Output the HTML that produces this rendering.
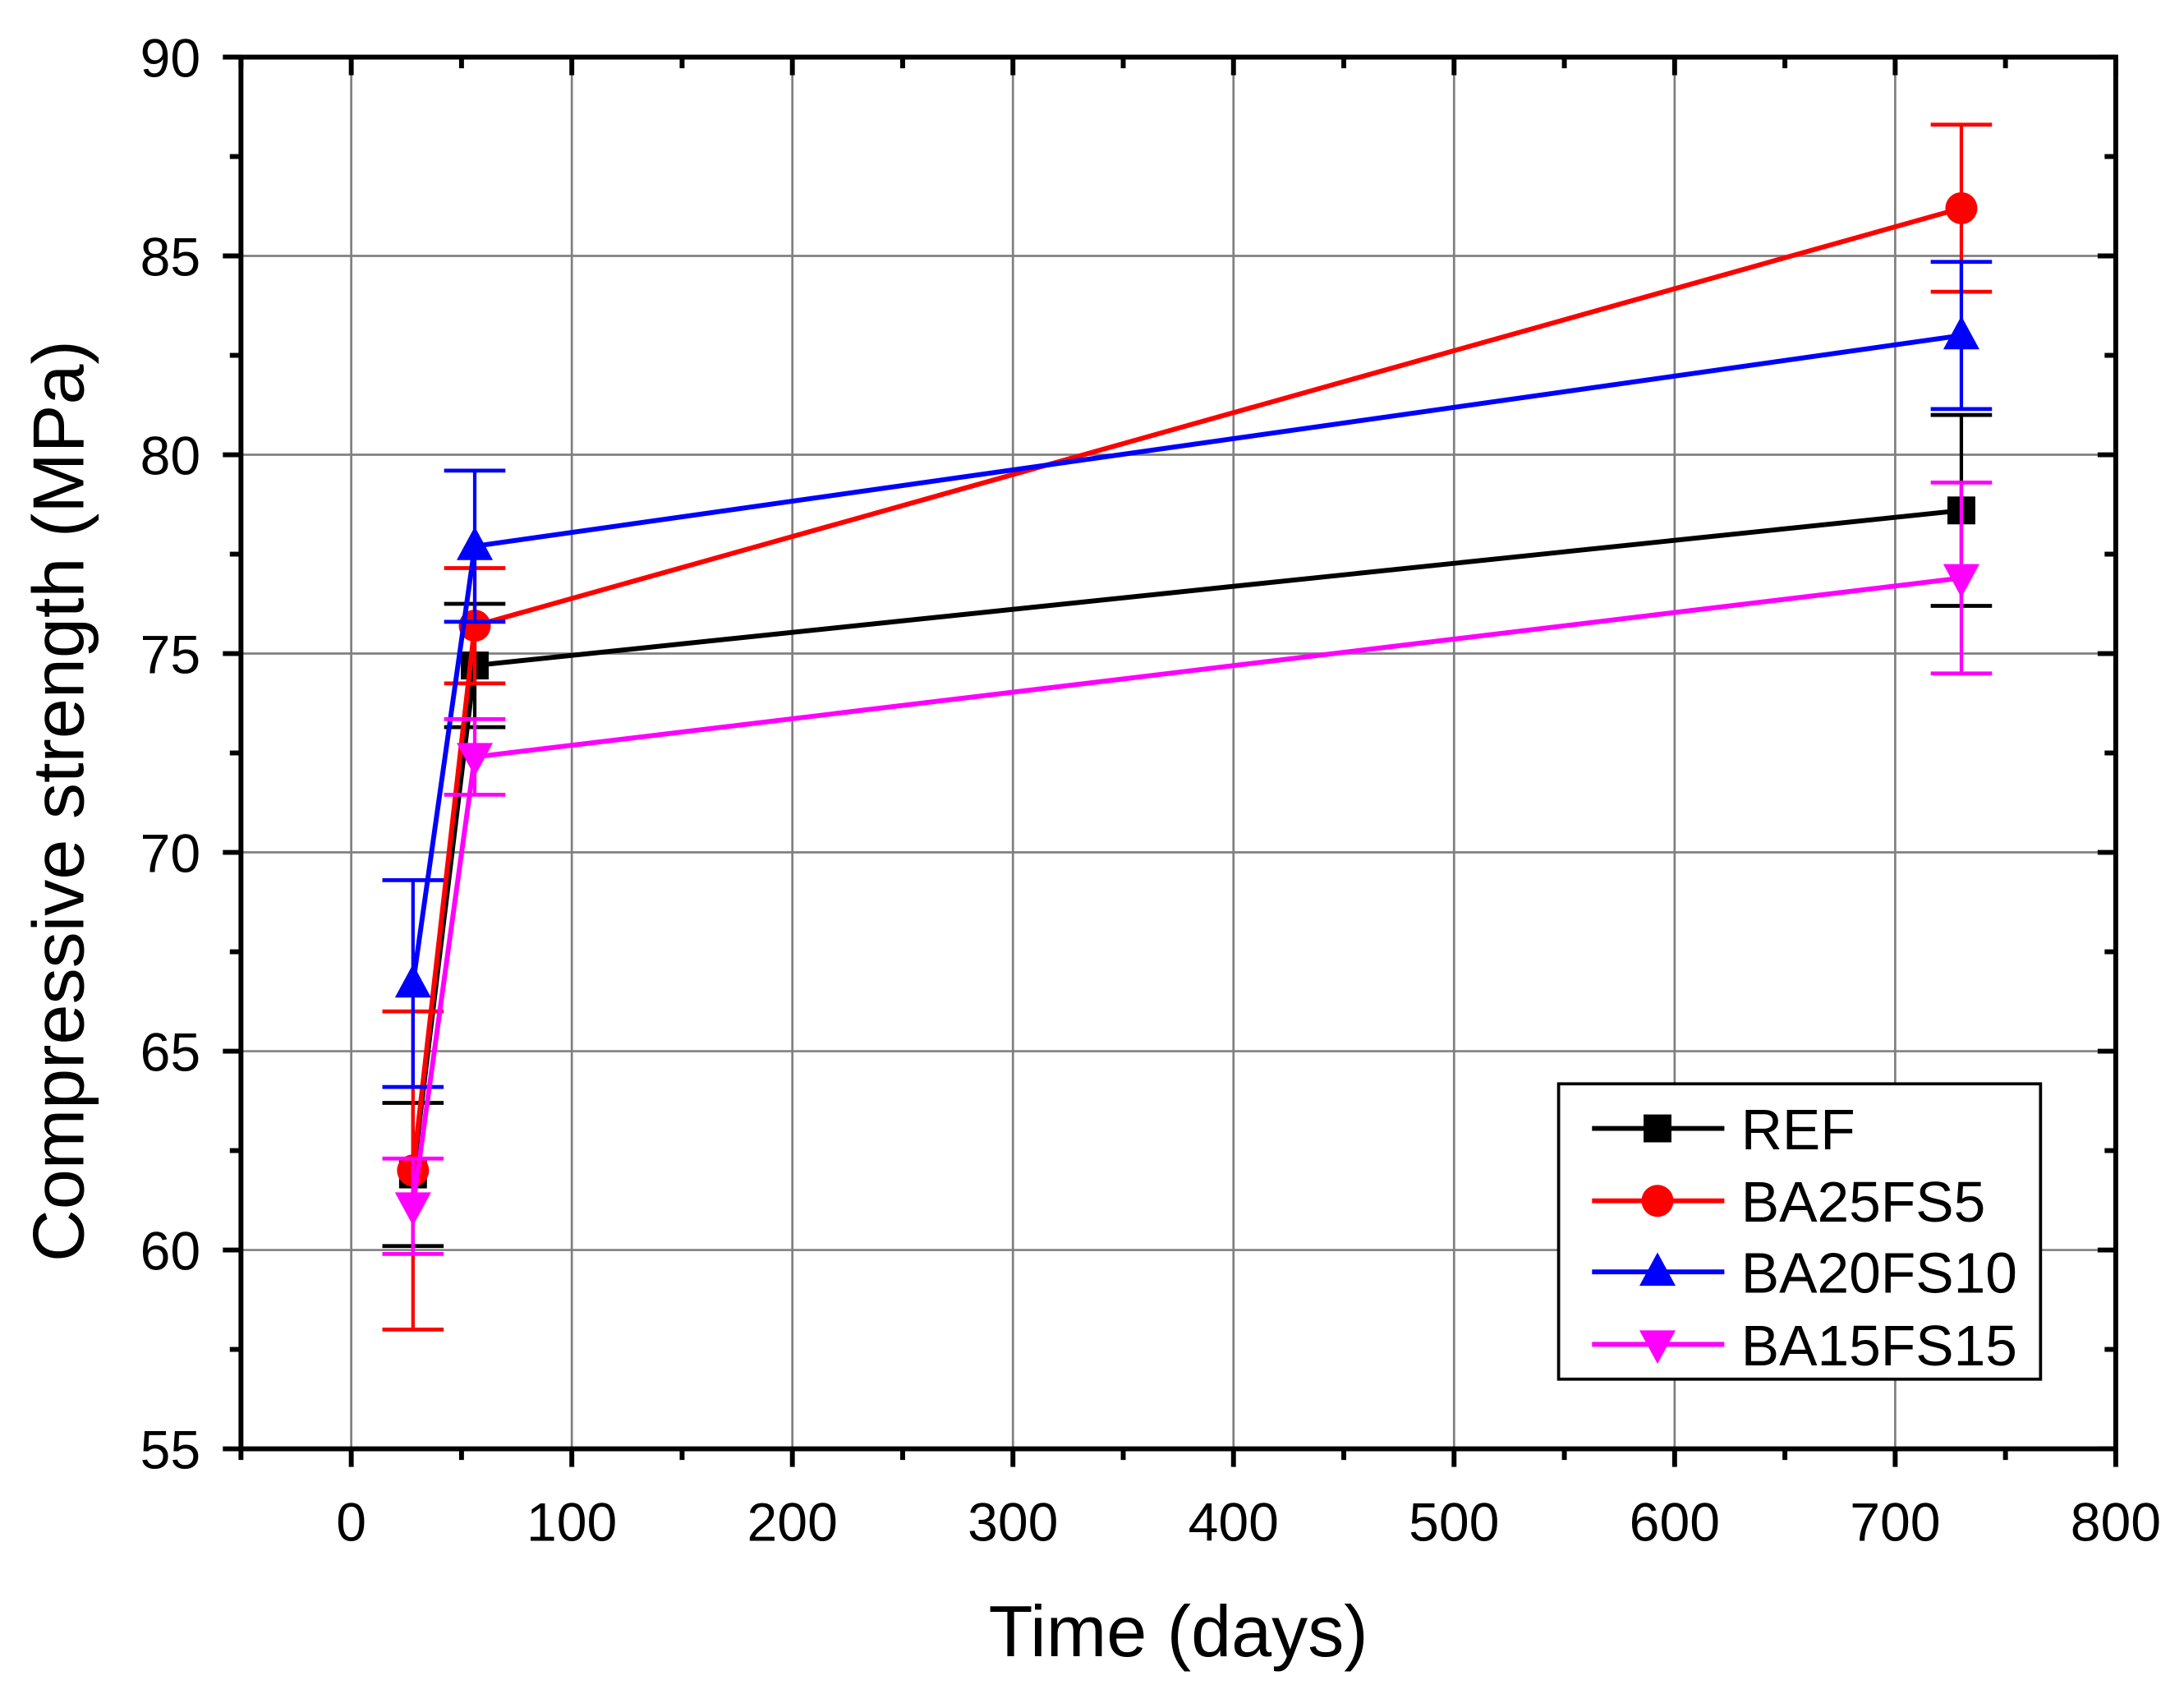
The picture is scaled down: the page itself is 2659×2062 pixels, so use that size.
<!DOCTYPE html>
<html><head><meta charset="utf-8"><style>
html,body{margin:0;padding:0;background:#fff;}
svg{display:block;font-family:"Liberation Sans",Arial,sans-serif;}
</style></head><body>
<svg id="chart" width="2659" height="2062" viewBox="0 0 1568 1216" preserveAspectRatio="none" xmlns="http://www.w3.org/2000/svg">
<rect x="0" y="0" width="1568" height="1216" fill="#fff"/>
<g id="grid"></g>
<g id="axes"></g>
<g id="series"></g>
<text x="846" y="1189" font-size="52" text-anchor="middle">Time (days)</text>
<text x="0" y="0" font-size="52" text-anchor="middle" transform="translate(60,575) rotate(-90)">Compressive strength (MPa)</text>
<g id="legend"></g>
</svg>
<script>
const days = [28, 56, 730];
const seriesNames = ["REF", "BA25FS5", "BA20FS10", "BA15FS15"];
const refValues = [61.9, 74.7, 78.6];
const refErrors = [1.8, 1.55, 2.4];
const ba25Values = [62.0, 75.7, 86.2];
const ba25Errors = [4.0, 1.45, 2.1];
const ba20Values = [66.7, 77.7, 83.0];
const ba20Errors = [2.6, 1.9, 1.85];
const ba15Values = [61.1, 72.4, 76.9];
const ba15Errors = [1.2, 0.95, 2.4];
const xTicks = [0, 100, 200, 300, 400, 500, 600, 700, 800];
const yTicks = [55, 60, 65, 70, 75, 80, 85, 90];

const L=173,R=1519,T=41,B=1040,XMIN=-50,XMAX=800,YMIN=55,YMAX=90;
const xs=d=>L+(d-XMIN)/(XMAX-XMIN)*(R-L);
const ys=v=>B-(v-YMIN)/(YMAX-YMIN)*(B-T);
const NS="http://www.w3.org/2000/svg";
function mk(tag,attrs,parent){const e=document.createElementNS(NS,tag);for(const k in attrs)e.setAttribute(k,attrs[k]);parent.appendChild(e);return e;}
const grid=document.getElementById('grid'),axes=document.getElementById('axes'),ser=document.getElementById('series'),leg=document.getElementById('legend');

xTicks.forEach(t=>{if(t>XMIN&&t<XMAX){const g=mk('line',{x1:xs(t),x2:xs(t),y1:T,y2:B,stroke:'#808080','stroke-width':1.6},grid);

}});
yTicks.forEach(t=>{if(t>YMIN&&t<YMAX){const g=mk('line',{x1:L,x2:R,y1:ys(t),y2:ys(t),stroke:'#808080','stroke-width':1.6},grid);

}});

const frame=mk('rect',{x:L,y:T,width:R-L,height:B-T,fill:'none',stroke:'#000','stroke-width':3.5},axes);



for(let d=XMIN;d<=XMAX;d+=50){const major=(d%100===0);const len=major?13:8;
mk('line',{x1:xs(d),x2:xs(d),y1:B,y2:B+len,stroke:'#000','stroke-width':3.5},axes);
mk('line',{x1:xs(d),x2:xs(d),y1:T,y2:T+len,stroke:'#000','stroke-width':3.5},axes);}
for(let v=YMIN;v<=YMAX;v+=2.5){const major=(v%5===0);const len=major?13:8;
mk('line',{x1:L-len,x2:L,y1:ys(v),y2:ys(v),stroke:'#000','stroke-width':3.5},axes);
mk('line',{x1:R-len,x2:R,y1:ys(v),y2:ys(v),stroke:'#000','stroke-width':3.5},axes);}
xTicks.forEach(t=>{const e=mk('text',{x:xs(t),y:1106,'font-size':39,'text-anchor':'middle'},axes);e.textContent=t;

});
yTicks.forEach(t=>{const e=mk('text',{x:144,y:ys(t)+14,'font-size':39,'text-anchor':'end'},axes);e.textContent=t;

});

function marker(kind,cx,cy,color,parent){let e;
if(kind==='square')e=mk('rect',{x:cx-10,y:cy-10,width:20,height:20,fill:color},parent);
else if(kind==='circle')e=mk('circle',{cx:cx,cy:cy,r:11.5,fill:color},parent);
else if(kind==='up')e=mk('polygon',{points:`${cx},${cy-14} ${cx-13},${cy+10} ${cx+13},${cy+10}`,fill:color},parent);
else e=mk('polygon',{points:`${cx},${cy+14} ${cx-13},${cy-10} ${cx+13},${cy-10}`,fill:color},parent);
return e;}

const all=[[refValues,refErrors,'#000','square'],[ba25Values,ba25Errors,'#ff0000','circle'],[ba20Values,ba20Errors,'#0000ff','up'],[ba15Values,ba15Errors,'#ff00ff','down']];
all.forEach((s,i)=>{const [vals,errs,col,kind]=s;const g=mk('g',{},ser);


vals.forEach((v,j)=>{const x=xs(days[j]);
mk('line',{x1:x,x2:x,y1:ys(v-errs[j]),y2:ys(v+errs[j]),stroke:col,'stroke-width':2.5},g);
[v-errs[j],v+errs[j]].forEach(e=>{mk('line',{x1:x-22,x2:x+22,y1:ys(e),y2:ys(e),stroke:col,'stroke-width':2.8},g);});});
const pl=mk('polyline',{points:vals.map((v,j)=>xs(days[j])+','+ys(v)).join(' '),fill:'none',stroke:col,'stroke-width':3.5},g);


vals.forEach((v,j)=>{const m=marker(kind,xs(days[j]),ys(v),col,g);

});
});

const lb=mk('rect',{x:1119,y:778,width:346,height:212,fill:'#fff',stroke:'#000','stroke-width':2.2},leg);


const rowsY=[810,862,913,965];
all.forEach((s,i)=>{const g=mk('g',{},leg);


mk('line',{x1:1143,x2:1238,y1:rowsY[i],y2:rowsY[i],stroke:s[2],'stroke-width':3.5},g);
marker(s[3],1190,rowsY[i],s[2],g);
const t=mk('text',{x:1250,y:rowsY[i]+15,'font-size':41},g);t.textContent=seriesNames[i];});
</script>
</body></html>
